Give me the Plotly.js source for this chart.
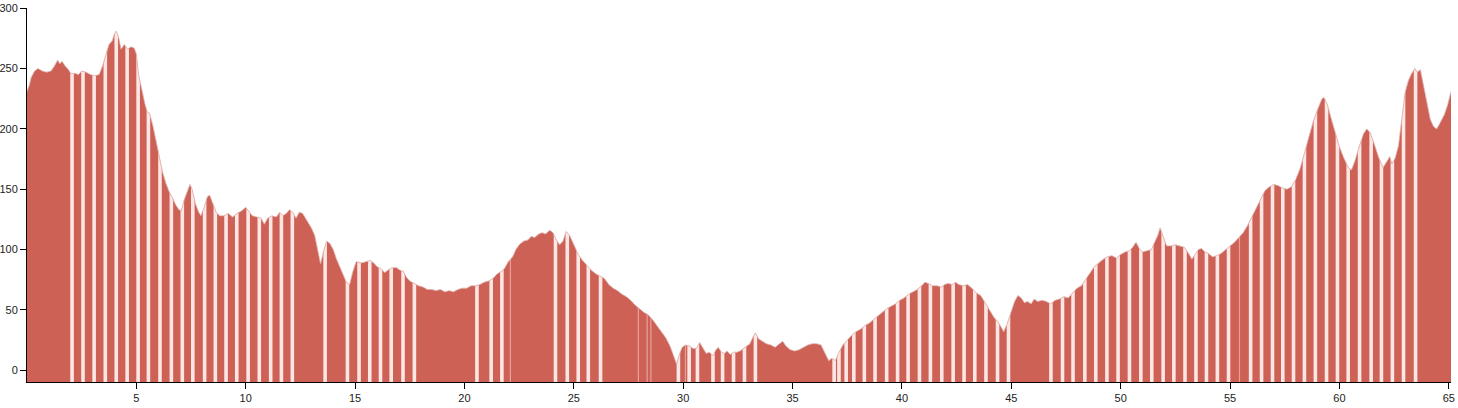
<!DOCTYPE html>
<html>
<head>
<meta charset="utf-8">
<script src="https://cdn.plot.ly/plotly-3.0.1.min.js"></script>
<style>
  html, body { margin: 0; padding: 0; background: #fff; }
  #chart { width: 1458px; height: 408px; }
</style>
</head>
<body>
<div id="chart"></div>
<script>
// ---- Data: distance (km) and elevation (m) of the profile ----
const dist = [
  0.0,0.1,0.2,0.35,0.5,0.7,0.9,1.1,1.25,1.4,1.5,1.6,1.75,1.9,2.0,2.2,2.35,2.5,2.7,2.9,
  3.1,3.3,3.45,3.6,3.75,3.9,4.0,4.08,4.2,4.3,4.45,4.6,4.75,4.9,5.0,5.1,5.25,5.4,5.5,5.6,
  5.75,5.9,6.05,6.2,6.35,6.5,6.65,6.8,6.95,7.05,7.2,7.35,7.45,7.55,7.7,7.85,7.95,8.1,8.25,8.35,
  8.5,8.65,8.8,9.0,9.2,9.4,9.6,9.8,10.0,10.15,10.3,10.5,10.7,10.85,11.0,11.2,11.4,11.55,11.7,11.85,
  12.0,12.15,12.3,12.45,12.6,12.8,13.0,13.15,13.3,13.42,13.55,13.7,13.85,14.0,14.15,14.3,14.45,14.6,14.75,14.9,
  15.05,15.3,15.5,15.7,15.85,16.0,16.2,16.35,16.5,16.7,16.9,17.05,17.2,17.35,17.5,17.7,17.9,18.1,18.3,18.5,
  18.7,18.9,19.1,19.3,19.5,19.7,19.9,20.1,20.3,20.5,20.7,20.9,21.1,21.3,21.5,21.7,21.85,22.0,22.2,22.35,
  22.5,22.7,22.9,23.05,23.2,23.4,23.55,23.7,23.9,24.05,24.2,24.35,24.5,24.65,24.8,25.0,25.2,25.4,25.6,25.8,
  26.0,26.2,26.4,26.6,26.8,27.0,27.2,27.4,27.6,27.8,28.0,28.2,28.4,28.6,28.8,29.0,29.2,29.4,29.55,29.7,
  29.8,29.95,30.1,30.3,30.45,30.6,30.75,30.9,31.05,31.2,31.35,31.5,31.6,31.75,31.9,32.0,32.15,32.3,32.45,32.6,
  32.75,32.9,33.05,33.2,33.3,33.45,33.6,33.8,34.0,34.2,34.4,34.55,34.7,34.9,35.1,35.3,35.5,35.7,35.9,36.1,
  36.3,36.5,36.65,36.8,36.95,37.1,37.3,37.5,37.7,37.9,38.1,38.3,38.5,38.7,38.9,39.1,39.3,39.5,39.7,39.9,
  40.1,40.3,40.5,40.7,40.9,41.05,41.2,41.4,41.6,41.8,41.95,42.1,42.3,42.45,42.6,42.8,43.0,43.2,43.4,43.6,
  43.8,44.0,44.2,44.4,44.55,44.65,44.8,45.0,45.15,45.3,45.45,45.6,45.75,45.9,46.05,46.2,46.4,46.6,46.8,47.0,
  47.2,47.4,47.6,47.8,48.0,48.2,48.4,48.6,48.8,49.0,49.2,49.4,49.6,49.8,50.0,50.2,50.4,50.55,50.7,50.85,
  51.0,51.2,51.4,51.55,51.7,51.8,51.95,52.1,52.3,52.5,52.7,52.9,53.1,53.25,53.4,53.55,53.7,53.85,54.0,54.2,
  54.4,54.6,54.8,55.0,55.2,55.4,55.6,55.8,56.0,56.2,56.4,56.6,56.8,57.0,57.2,57.4,57.6,57.8,58.0,58.2,
  58.4,58.6,58.8,59.0,59.2,59.3,59.45,59.6,59.8,60.0,60.2,60.4,60.55,60.7,60.9,61.1,61.25,61.4,61.6,61.8,
  62.0,62.15,62.3,62.4,62.55,62.7,62.85,63.0,63.15,63.3,63.45,63.55,63.7,63.85,64.0,64.15,64.3,64.45,64.6,64.8,
  64.95,65.1
];
const elev = [
  231,236,243,248,250,248,247,248,252,257,254,256,252,249,246,246,245,248,247,245,
  244,245,252,262,270,273,279,281,275,266,270,266,268,267,262,245,232,220,214,213,
  203,190,176,164,155,148,143,137,133,132,142,150,154,150,138,131,128,135,144,145,
  138,131,128,128,130,127,130,132,135,131,128,127,126,121,126,128,127,131,128,130,
  133,131,126,131,130,124,118,112,99,88,98,107,105,100,92,86,80,73,71,82,
  90,89,90,91,89,86,84,81,83,85,85,83,82,77,74,72,70,69,67,67,
  66,67,65,66,65,67,68,68,70,70,71,73,74,76,80,82,85,90,94,100,
  104,107,108,111,110,113,114,113,116,114,108,104,107,115,112,104,96,91,87,83,
  80,78,76,71,68,66,63,61,58,54,51,48,46,42,37,32,27,20,13,5,
  12,19,21,20,18,18,23,18,14,15,12,17,19,15,14,16,13,15,15,16,
  18,20,22,28,31,26,24,22,21,19,22,24,20,17,16,17,19,21,22,22,
  21,14,8,10,8,14,21,25,29,32,34,37,39,42,45,48,51,53,55,58,
  60,63,65,67,70,73,72,70,70,69,71,72,71,73,71,70,71,68,64,62,
  56,50,44,40,35,32,38,48,57,62,60,56,57,55,59,57,58,57,55,58,
  59,61,60,64,68,70,75,81,86,89,92,94,95,93,96,98,99,102,106,101,
  98,99,100,106,112,118,110,103,103,104,103,102,97,92,96,100,101,98,97,94,
  95,97,100,103,106,110,114,120,127,134,142,149,152,154,153,151,150,152,158,167,
  180,194,206,216,225,226,220,210,197,185,176,168,166,173,185,196,200,197,187,176,
  168,172,177,171,176,186,210,230,240,246,250,247,249,236,220,208,202,200,205,212,
  220,231
];

// Light stripes (km) across the profile
const stripeKm = [
  2.06,2.56,3.07,3.58,4.08,4.58,5.08,5.55,6.08,6.6,7.1,7.58,8.12,8.61,9.1,9.59,10.11,10.62,11.14,11.63,12.13,
  13.63,14.65,15.18,15.67,16.16,16.65,17.19,17.71,
  20.57,21.22,21.71,
  24.16,24.7,25.2,25.66,26.22,
  29.78,30.27,30.65,31.36,31.8,32.3,32.8,33.3,
  36.9,37.12,37.45,37.8,38.28,38.77,39.3,39.8,40.28,40.8,41.3,41.82,42.34,42.84,43.33,43.84,44.37,44.87,
  46.81,47.34,47.82,48.36,48.86,49.37,49.88,50.4,50.92,51.42,51.94,52.43,52.94,53.44,53.92,54.42,54.93,
  55.94,56.44,56.94,57.41,57.9,58.4,58.9,59.41,59.91,60.4,60.92,61.45,61.92,62.42,62.93,63.48
];
// Faint thin stripes (km)
const faintKm = [22.1, 27.95, 28.35, 28.52, 30.1, 55.43];

const xTicks = [5,10,15,20,25,30,35,40,45,50,55,60,65];
const yTicks = [0,50,100,150,200,250,300];

// ---- Styling ----
const RED = '#cd6155';
const PALE = '#fde6e3';
const Y_MIN = -9.7, Y_MAX = 300.2;
const X_MAX = dist[dist.length - 1];

const first = dist[0], last = dist[dist.length - 1];

function stripeXY(list, lo, hi) {
  const xs = [], ys = [];
  list.forEach(s => { xs.push(s, s, null); ys.push(lo, hi, null); });
  return {xs, ys};
}
const st = stripeXY(stripeKm, Y_MIN - 5, 330);
const ft = stripeXY(faintKm, Y_MIN - 5, 330);

const traces = [
  { // red profile area down to axis bottom
    x: dist.concat([last, first]),
    y: elev.concat([Y_MIN - 5, Y_MIN - 5]),
    type: 'scatter', mode: 'lines', fill: 'toself',
    fillcolor: RED, line: {width: 0, color: RED}, hoverinfo: 'skip'
  },
  { // light stripes
    x: st.xs, y: st.ys, type: 'scatter', mode: 'lines',
    line: {width: 3.6, color: PALE}, hoverinfo: 'skip'
  },
  { // faint stripes
    x: ft.xs, y: ft.ys, type: 'scatter', mode: 'lines',
    line: {width: 1.2, color: 'rgba(250,215,210,0.55)'}, hoverinfo: 'skip'
  },
  { // white mask above profile
    x: dist.concat([last, first]),
    y: elev.concat([340, 340]),
    type: 'scatter', mode: 'lines', fill: 'toself',
    fillcolor: '#ffffff', line: {width: 0, color: '#ffffff'}, hoverinfo: 'skip'
  },
  { // thin outline of profile
    x: dist, y: elev, type: 'scatter', mode: 'lines',
    line: {width: 0.8, color: '#d9a3a0'}, hoverinfo: 'skip'
  }
];

const axisFont = {family: 'Liberation Sans, Arial, sans-serif', size: 11, color: '#222'};

const layout = {
  width: 1458, height: 408,
  margin: {l: 27, r: 7, t: 8, b: 26},
  paper_bgcolor: '#ffffff', plot_bgcolor: '#ffffff',
  showlegend: false, hovermode: false,
  xaxis: {
    range: [0, X_MAX], tickvals: xTicks, ticktext: xTicks.map(String),
    showgrid: false, zeroline: false, showline: true, linecolor: '#000', linewidth: 1,
    ticks: 'outside', ticklen: 6, tickcolor: '#000', tickfont: axisFont, fixedrange: true
  },
  yaxis: {
    range: [Y_MIN, Y_MAX], tickvals: yTicks, ticktext: yTicks.map(String),
    showgrid: false, zeroline: false, showline: true, linecolor: '#000', linewidth: 1,
    ticks: 'outside', ticklen: 6, tickcolor: '#000', tickfont: axisFont, fixedrange: true
  }
};

Plotly.newPlot('chart', traces, layout, {displayModeBar: false, staticPlot: true});
</script>
</body>
</html>
